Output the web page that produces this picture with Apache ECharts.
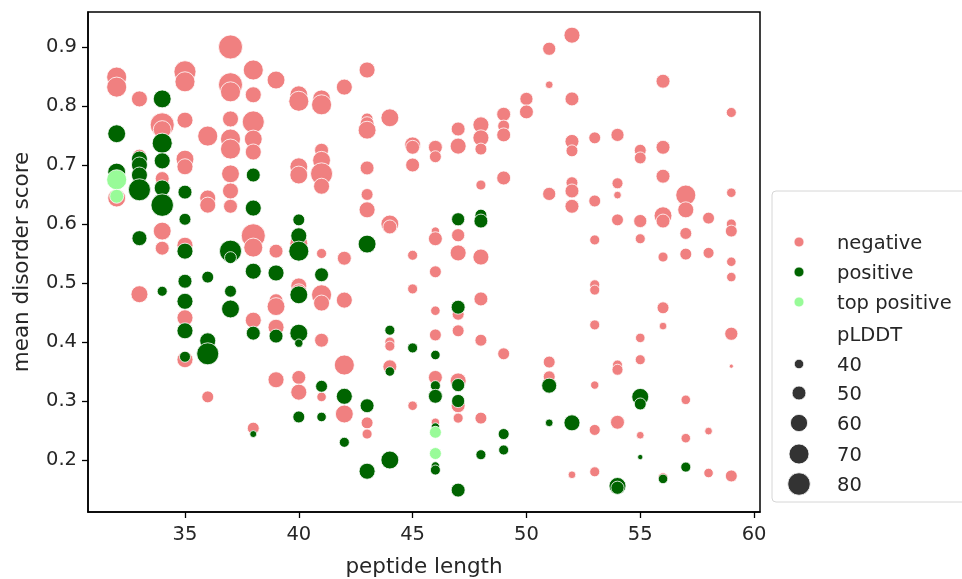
<!DOCTYPE html>
<html><head><meta charset="utf-8">
<script src="https://cdn.jsdelivr.net/npm/echarts@6/dist/echarts.min.js"></script>
<style>html,body{margin:0;padding:0;background:#fff}#c{width:962px;height:579px}</style>
</head><body><div id="c"></div>
<script>
// [peptide length, mean disorder score, pLDDT]
const negative = [
[32,0.849,70],[32,0.832,70],[32,0.644,62],
[33,0.812,56],[33,0.715,50],[33,0.481,59],
[34,0.768,87],[34,0.76,62],[34,0.677,50],[34,0.588,62],[34,0.559,50],
[35,0.858,78],[35,0.841,70],[35,0.776,56],[35,0.71,62],[35,0.697,56],[35,0.564,56],[35,0.441,56],[35,0.37,56],
[36,0.749,70],[36,0.644,56],[36,0.632,56],[36,0.307,45],
[37,0.9,87],[37,0.836,87],[37,0.824,70],[37,0.778,56],[37,0.744,70],[37,0.727,70],[37,0.685,62],[37,0.656,56],[37,0.63,50],
[38,0.861,70],[38,0.819,56],[38,0.773,78],[38,0.744,62],[38,0.722,56],[38,0.58,87],[38,0.56,66],[38,0.437,56],[38,0.254,45],
[39,0.844,62],[39,0.554,50],[39,0.47,50],[39,0.46,62],[39,0.425,56],[39,0.336,56],
[40,0.819,62],[40,0.808,70],[40,0.697,62],[40,0.683,62],[40,0.567,62],[40,0.495,56],[40,0.485,56],[40,0.34,50],[40,0.315,56],
[41,0.812,62],[41,0.802,70],[41,0.725,50],[41,0.708,62],[41,0.685,78],[41,0.664,56],[41,0.55,41],[41,0.48,70],[41,0.466,56],[41,0.403,50],[41,0.307,40],
[42,0.832,56],[42,0.542,50],[42,0.471,56],[42,0.361,70],[42,0.278,62],
[43,0.861,56],[43,0.778,45],[43,0.77,50],[43,0.759,62],[43,0.695,50],[43,0.65,45],[43,0.624,56],[43,0.263,45],[43,0.244,41],
[44,0.78,62],[44,0.6,62],[44,0.595,50],[44,0.4,41],[44,0.393,41],[44,0.358,50],
[45,0.734,56],[45,0.73,50],[45,0.70,50],[45,0.547,41],[45,0.49,41],[45,0.292,40],
[46,0.73,50],[46,0.714,45],[46,0.588,38],[46,0.575,50],[46,0.519,45],[46,0.453,40],[46,0.412,45],[46,0.34,50],[46,0.264,38],
[47,0.761,50],[47,0.732,56],[47,0.581,48],[47,0.551,56],[47,0.447,45],[47,0.419,45],[47,0.334,56],[47,0.292,50],[47,0.271,41],
[48,0.768,56],[48,0.746,56],[48,0.727,45],[48,0.666,41],[48,0.544,56],[48,0.473,50],[48,0.403,45],[48,0.271,45],
[49,0.786,50],[49,0.766,45],[49,0.751,50],[49,0.678,50],[49,0.38,45],
[50,0.812,48],[50,0.79,50],
[51,0.897,48],[51,0.836,37],[51,0.651,48],[51,0.366,45],[51,0.341,45],
[52,0.92,56],[52,0.812,50],[52,0.74,50],[52,0.724,45],[52,0.67,45],[52,0.656,50],[52,0.63,50],[52,0.175,37],
[53,0.746,45],[53,0.639,45],[53,0.573,41],[53,0.497,41],[53,0.488,41],[53,0.429,41],[53,0.327,38],[53,0.251,43],[53,0.18,41],
[54,0.751,48],[54,0.669,43],[54,0.649,37],[54,0.607,45],[54,0.361,41],[54,0.353,43],[54,0.264,50],
[55,0.725,45],[55,0.712,45],[55,0.605,48],[55,0.575,41],[55,0.407,40],[55,0.37,41],[55,0.242,37],
[56,0.842,50],[56,0.73,50],[56,0.681,50],[56,0.614,62],[56,0.605,50],[56,0.544,41],[56,0.458,45],[56,0.427,37],[56,0.17,41],
[57,0.649,70],[57,0.624,56],[57,0.584,45],[57,0.549,45],[57,0.302,40],[57,0.237,40],
[58,0.61,45],[58,0.551,43],[58,0.249,37],[58,0.178,40],
[59,0.789,41],[59,0.653,40],[59,0.6,41],[59,0.588,45],[59,0.536,40],[59,0.51,40],[59,0.414,48],[59,0.359,33],[59,0.173,45]
];
const positive = [
[32,0.753,62],[32,0.688,62],
[33,0.71,56],[33,0.70,56],[33,0.683,56],[33,0.658,78],[33,0.576,53],
[34,0.812,62],[34,0.737,70],[34,0.707,56],[34,0.661,56],[34,0.632,80],[34,0.486,41],
[35,0.654,50],[35,0.608,45],[35,0.554,56],[35,0.503,50],[35,0.469,56],[35,0.419,56],[35,0.375,43],
[36,0.51,45],[36,0.402,56],[36,0.38,78],
[37,0.554,78],[37,0.543,45],[37,0.486,45],[37,0.456,62],
[38,0.683,50],[38,0.627,56],[38,0.52,56],[38,0.415,50],[38,0.244,36],
[39,0.517,56],[39,0.41,50],
[40,0.607,45],[40,0.58,56],[40,0.554,70],[40,0.48,62],[40,0.415,62],[40,0.398,38],[40,0.273,45],
[41,0.514,50],[41,0.325,45],[41,0.273,40],
[42,0.308,56],[42,0.23,41],
[43,0.566,62],[43,0.292,50],[43,0.181,56],
[44,0.42,41],[44,0.35,40],[44,0.2,62],
[45,0.39,41],
[46,0.378,40],[46,0.326,41],[46,0.308,50],[46,0.256,38],[46,0.19,38],[46,0.183,41],
[47,0.608,48],[47,0.459,50],[47,0.327,48],[47,0.3,48],[47,0.149,50],
[48,0.615,45],[48,0.605,50],[48,0.209,41],
[49,0.244,43],[49,0.217,41],
[51,0.326,53],[51,0.263,37],
[52,0.263,56],
[54,0.156,59],[54,0.153,48],
[55,0.307,59],[55,0.295,45],[55,0.205,34],
[56,0.168,40],
[57,0.188,41]
];
const topPositive = [
[32,0.675,70],[32,0.647,50],[46,0.247,45],[46,0.211,45]
];
const xTicks = [35,40,45,50,55,60];
const yTicks = [0.2,0.3,0.4,0.5,0.6,0.7,0.8,0.9];
const hueNames = ['negative','positive','top positive'];
const hueColors = ['#F08080','#006400','#98FB98'];
const sizeTicks = [40,50,60,70,80];

function sz(p){ return Math.sqrt(Math.max(4, 90.25 + (p-40)*10.4)); }

const font = 'DejaVu Sans';
const txt = '#262626';
const chart = echarts.init(document.getElementById('c'), null, {renderer:'canvas'});

const seriesData = [negative, positive, topPositive];
const series = seriesData.map((d,i)=>({
  name: hueNames[i], type:'scatter', data:d,
  symbolSize: v => sz(v[2]),
  itemStyle:{color:hueColors[i], borderColor:'#fff', borderWidth:0.8, opacity:1},
  emphasis:{disabled:true}, z: 2+i
}));

// legend drawn as graphic
const g = [];
const lx = 772, ly = 191;
g.push({type:'rect', shape:{x:lx, y:ly, width:210, height:311, r:4},
  style:{fill:'rgba(255,255,255,0.8)', stroke:'#d6d6d6', lineWidth:1}, z:10});
const rowY = [242,272,302];
hueNames.forEach((n,i)=>{
  g.push({type:'circle', shape:{cx:799, cy:rowY[i], r:5}, style:{fill:hueColors[i], stroke:'#fff', lineWidth:0.8}, z:11});
  g.push({type:'text', style:{text:n, x:837, y:rowY[i]+1.5, textVerticalAlign:'middle', font:'19.5px '+font, fill:txt}, z:11});
});
g.push({type:'text', style:{text:'pLDDT', x:837, y:335.5, textVerticalAlign:'middle', font:'19.5px '+font, fill:txt}, z:11});
const sizeY = [364,393,423,454,484];
sizeTicks.forEach((s,i)=>{
  g.push({type:'circle', shape:{cx:799, cy:sizeY[i], r:sz(s)/2}, style:{fill:'#333333', stroke:'#fff', lineWidth:0.8}, z:11});
  g.push({type:'text', style:{text:String(s), x:837, y:sizeY[i]+1.5, textVerticalAlign:'middle', font:'19.5px '+font, fill:txt}, z:11});
});

chart.setOption({
  animation:false,
  backgroundColor:'#fff',
  grid:{left:88, top:12, right:202, bottom:67, show:true, borderColor:'#000', borderWidth:1.5, backgroundColor:'transparent', containLabel:false, outerBoundsMode:'none'},
  xAxis:{type:'value', min:30.74, max:60.26,
    name:'peptide length', nameLocation:'middle', nameGap:44,
    nameTextStyle:{fontFamily:font, fontSize:21.5, color:txt},
    axisLine:{show:true, lineStyle:{color:'#000', width:1.5}},
    axisTick:{show:true, inside:false, length:6, customValues:xTicks, lineStyle:{color:'#000', width:1.3}},
    axisLabel:{customValues:xTicks, fontFamily:font, fontSize:19.5, color:txt, margin:13, formatter:v=>String(v)},
    splitLine:{show:false}},
  yAxis:{type:'value', min:0.1119, max:0.9593,
    name:'mean disorder score', nameLocation:'middle', nameGap:55, nameRotate:90,
    nameTextStyle:{fontFamily:font, fontSize:21.5, color:txt},
    axisLine:{show:true, lineStyle:{color:'#000', width:1.5}},
    axisTick:{show:true, inside:false, length:6, customValues:yTicks, lineStyle:{color:'#000', width:1.3}},
    axisLabel:{customValues:yTicks, fontFamily:font, fontSize:19.5, color:txt, margin:11, formatter:v=>v.toFixed(1)},
    splitLine:{show:false}},
  series: series,
  graphic: g
});
</script></body></html>
